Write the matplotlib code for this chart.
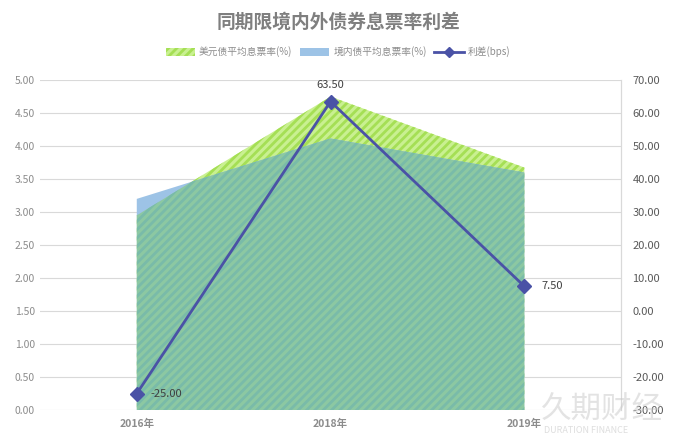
import matplotlib.pyplot as plt
import numpy as np
from matplotlib.patches import Patch
from matplotlib.lines import Line2D

plt.rcParams['font.family'] = ['Noto Sans CJK SC', 'DejaVu Sans']
plt.rcParams['hatch.linewidth'] = 2.0

years = ['2016年', '2018年', '2019年']
usd_rate = [2.95, 4.75, 3.675]      # 美元债平均息票率(%)
cny_rate = [3.20, 4.115, 3.60]      # 境内债平均息票率(%)
spread = [-25.00, 63.50, 7.50]      # 利差(bps)

x = np.arange(len(years))

fig = plt.figure(figsize=(6.76, 4.40), dpi=100)
ax = fig.add_axes([0.059, 0.068, 0.86, 0.75])

green = ax.fill_between(x, 0, usd_rate, facecolor='#c9f091', edgecolor='#a5df55',
                        hatch='////', linewidth=0, zorder=2)
ax.fill_between(x, 0, cny_rate, facecolor='#9dc3e6', linewidth=0, zorder=3)
teal = ax.fill_between(x, 0, cny_rate, facecolor='#8cc8a2', edgecolor='#79bba9',
                       hatch='////', linewidth=0, zorder=4)
teal.set_clip_path(green.get_paths()[0], ax.transData)

ax.set_xlim(-0.5, len(years) - 0.5)
ax.set_ylim(0, 5)
ax.set_yticks(np.arange(0, 5.01, 0.5))
ax.set_yticklabels([f'{v:.2f}' for v in np.arange(0, 5.01, 0.5)])
ax.set_xticks(x)
ax.set_xticklabels(years, fontweight='bold')
ax.grid(axis='y', color='#d9d9d9', linewidth=0.8, zorder=0)
ax.set_axisbelow(True)
for s in ['top', 'left', 'bottom']:
    ax.spines[s].set_visible(False)
ax.spines['right'].set_color('#d9d9d9')
ax.tick_params(axis='both', length=0, colors='#8c8c8c', labelsize=7.5)
ax.tick_params(axis='x', pad=6)

ax2 = ax.twinx()
ax2.plot(x, spread, color='#4a52a6', linewidth=2, marker='D', markersize=7, zorder=5)
ax2.set_ylim(-30, 70)
ax2.set_yticks(np.arange(-30, 71, 10))
ax2.set_yticklabels([f'{v:.2f}' for v in np.arange(-30, 71, 10)])
for s in ['top', 'left', 'bottom']:
    ax2.spines[s].set_visible(False)
ax2.spines['right'].set_color('#d9d9d9')
ax2.tick_params(axis='y', length=0, colors='#595959', labelsize=8, pad=8)

ax2.annotate(f'{spread[0]:.2f}', (x[0], spread[0]), xytext=(10, 0), textcoords='offset points',
             va='center', ha='left', fontsize=8, color='#404040')
ax2.annotate(f'{spread[1]:.2f}', (x[1], spread[1]), xytext=(0, 8), textcoords='offset points',
             va='bottom', ha='center', fontsize=8, color='#404040')
ax2.annotate(f'{spread[2]:.2f}', (x[2], spread[2]), xytext=(12, 0), textcoords='offset points',
             va='center', ha='left', fontsize=8, color='#404040')

fig.text(0.5, 0.95, '同期限境内外债券息票率利差', ha='center', va='center',
         fontsize=13.5, fontweight='bold', color='#7f7f7f')

handles = [Patch(facecolor='#c9f091', edgecolor='#a5df55', hatch='////', linewidth=0),
           Patch(facecolor='#9dc3e6', linewidth=0),
           Line2D([0], [0], color='#4a52a6', linewidth=2, marker='D', markersize=5)]
labels = ['美元债平均息票率(%)', '境内债平均息票率(%)', '利差(bps)']
leg = fig.legend(handles, labels, loc='center', bbox_to_anchor=(0.5, 0.882), ncol=3,
                 frameon=False, fontsize=7, handlelength=3, handleheight=0.8,
                 columnspacing=0.8, handletextpad=0.4)
for t in leg.get_texts():
    t.set_color('#8c8c8c')

# watermark
fig.text(0.80, 0.068, '久期财经', fontsize=22, color='#c8c8c8', alpha=0.5, ha='left', va='center')
fig.text(0.805, 0.022, 'DURATION FINANCE', fontsize=6.5, color='#c8c8c8', alpha=0.6,
         ha='left', va='center')

fig.savefig('out.png', dpi=100)
